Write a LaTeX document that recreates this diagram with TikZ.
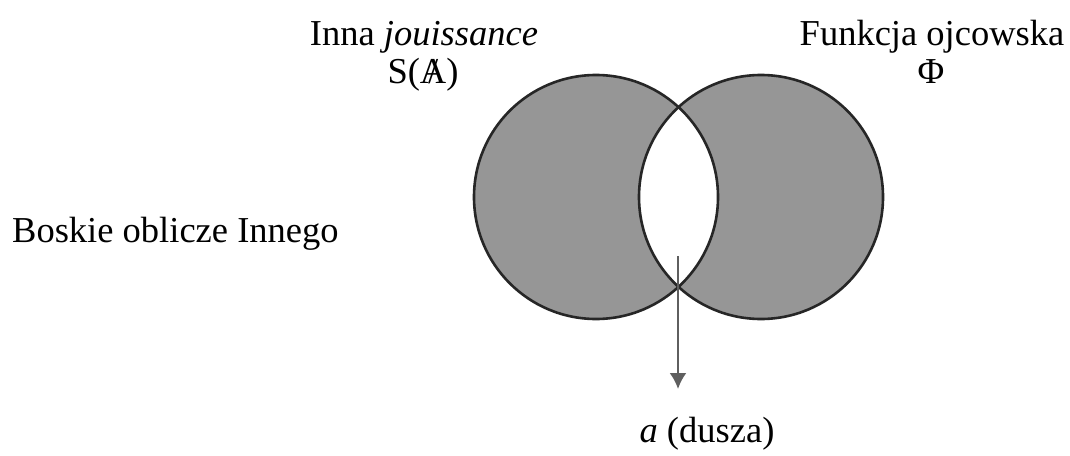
\documentclass[tikz,border=0pt]{standalone}
\usepackage{fontspec}
\setmainfont{Liberation Serif}
\usetikzlibrary{arrows.meta}
\definecolor{discgray}{RGB}{150,150,150}
\definecolor{arrowgray}{RGB}{95,95,95}
\tikzset{
  lbl/.style={anchor=base, inner sep=0pt, font=\fontsize{36.5}{40}\selectfont},
  disc/.style={circle, minimum size=244pt, inner sep=0pt, outer sep=0pt},
  rim/.style={draw=black!85, line width=2.6pt},
  pointer/.style={draw=arrowgray, line width=2.4pt, -{Latex[length=16pt,width=17pt]}}
}
\begin{document}
\begin{tikzpicture}[x=1pt,y=-1pt]
\useasboundingbox[fill=white] (0,0) rectangle (1070,455);
\node[disc] (L) at (596,197) {};
\node[disc] (R) at (761,197) {};
\fill[discgray] (L.center) circle (122);
\fill[discgray] (R.center) circle (122);
\begin{scope}
  \clip (L.center) circle (122);
  \fill[white] (R.center) circle (122);
\end{scope}
\draw[rim] (L.center) circle (122);
\draw[rim] (R.center) circle (122);
\node[lbl] (t1) at (424,45) {Inna \textit{jouissance}};
\node[lbl] (t2) at (423,83) {S(\ooalign{A\cr\hidewidth/\hidewidth})};
\node[lbl] (t3) at (932,45) {Funkcja ojcowska};
\node[lbl] (t4) at (931,83) {Φ};
\node[lbl, anchor=base west] (t5) at (12,242) {Boskie oblicze Innego};
\node[lbl] (t6) at (707,442) {\textit{a} (dusza)};
\coordinate (s) at (678,256);
\coordinate (e) at (678,389);
\draw[pointer] (s) -- (e);
\end{tikzpicture}
\end{document}
